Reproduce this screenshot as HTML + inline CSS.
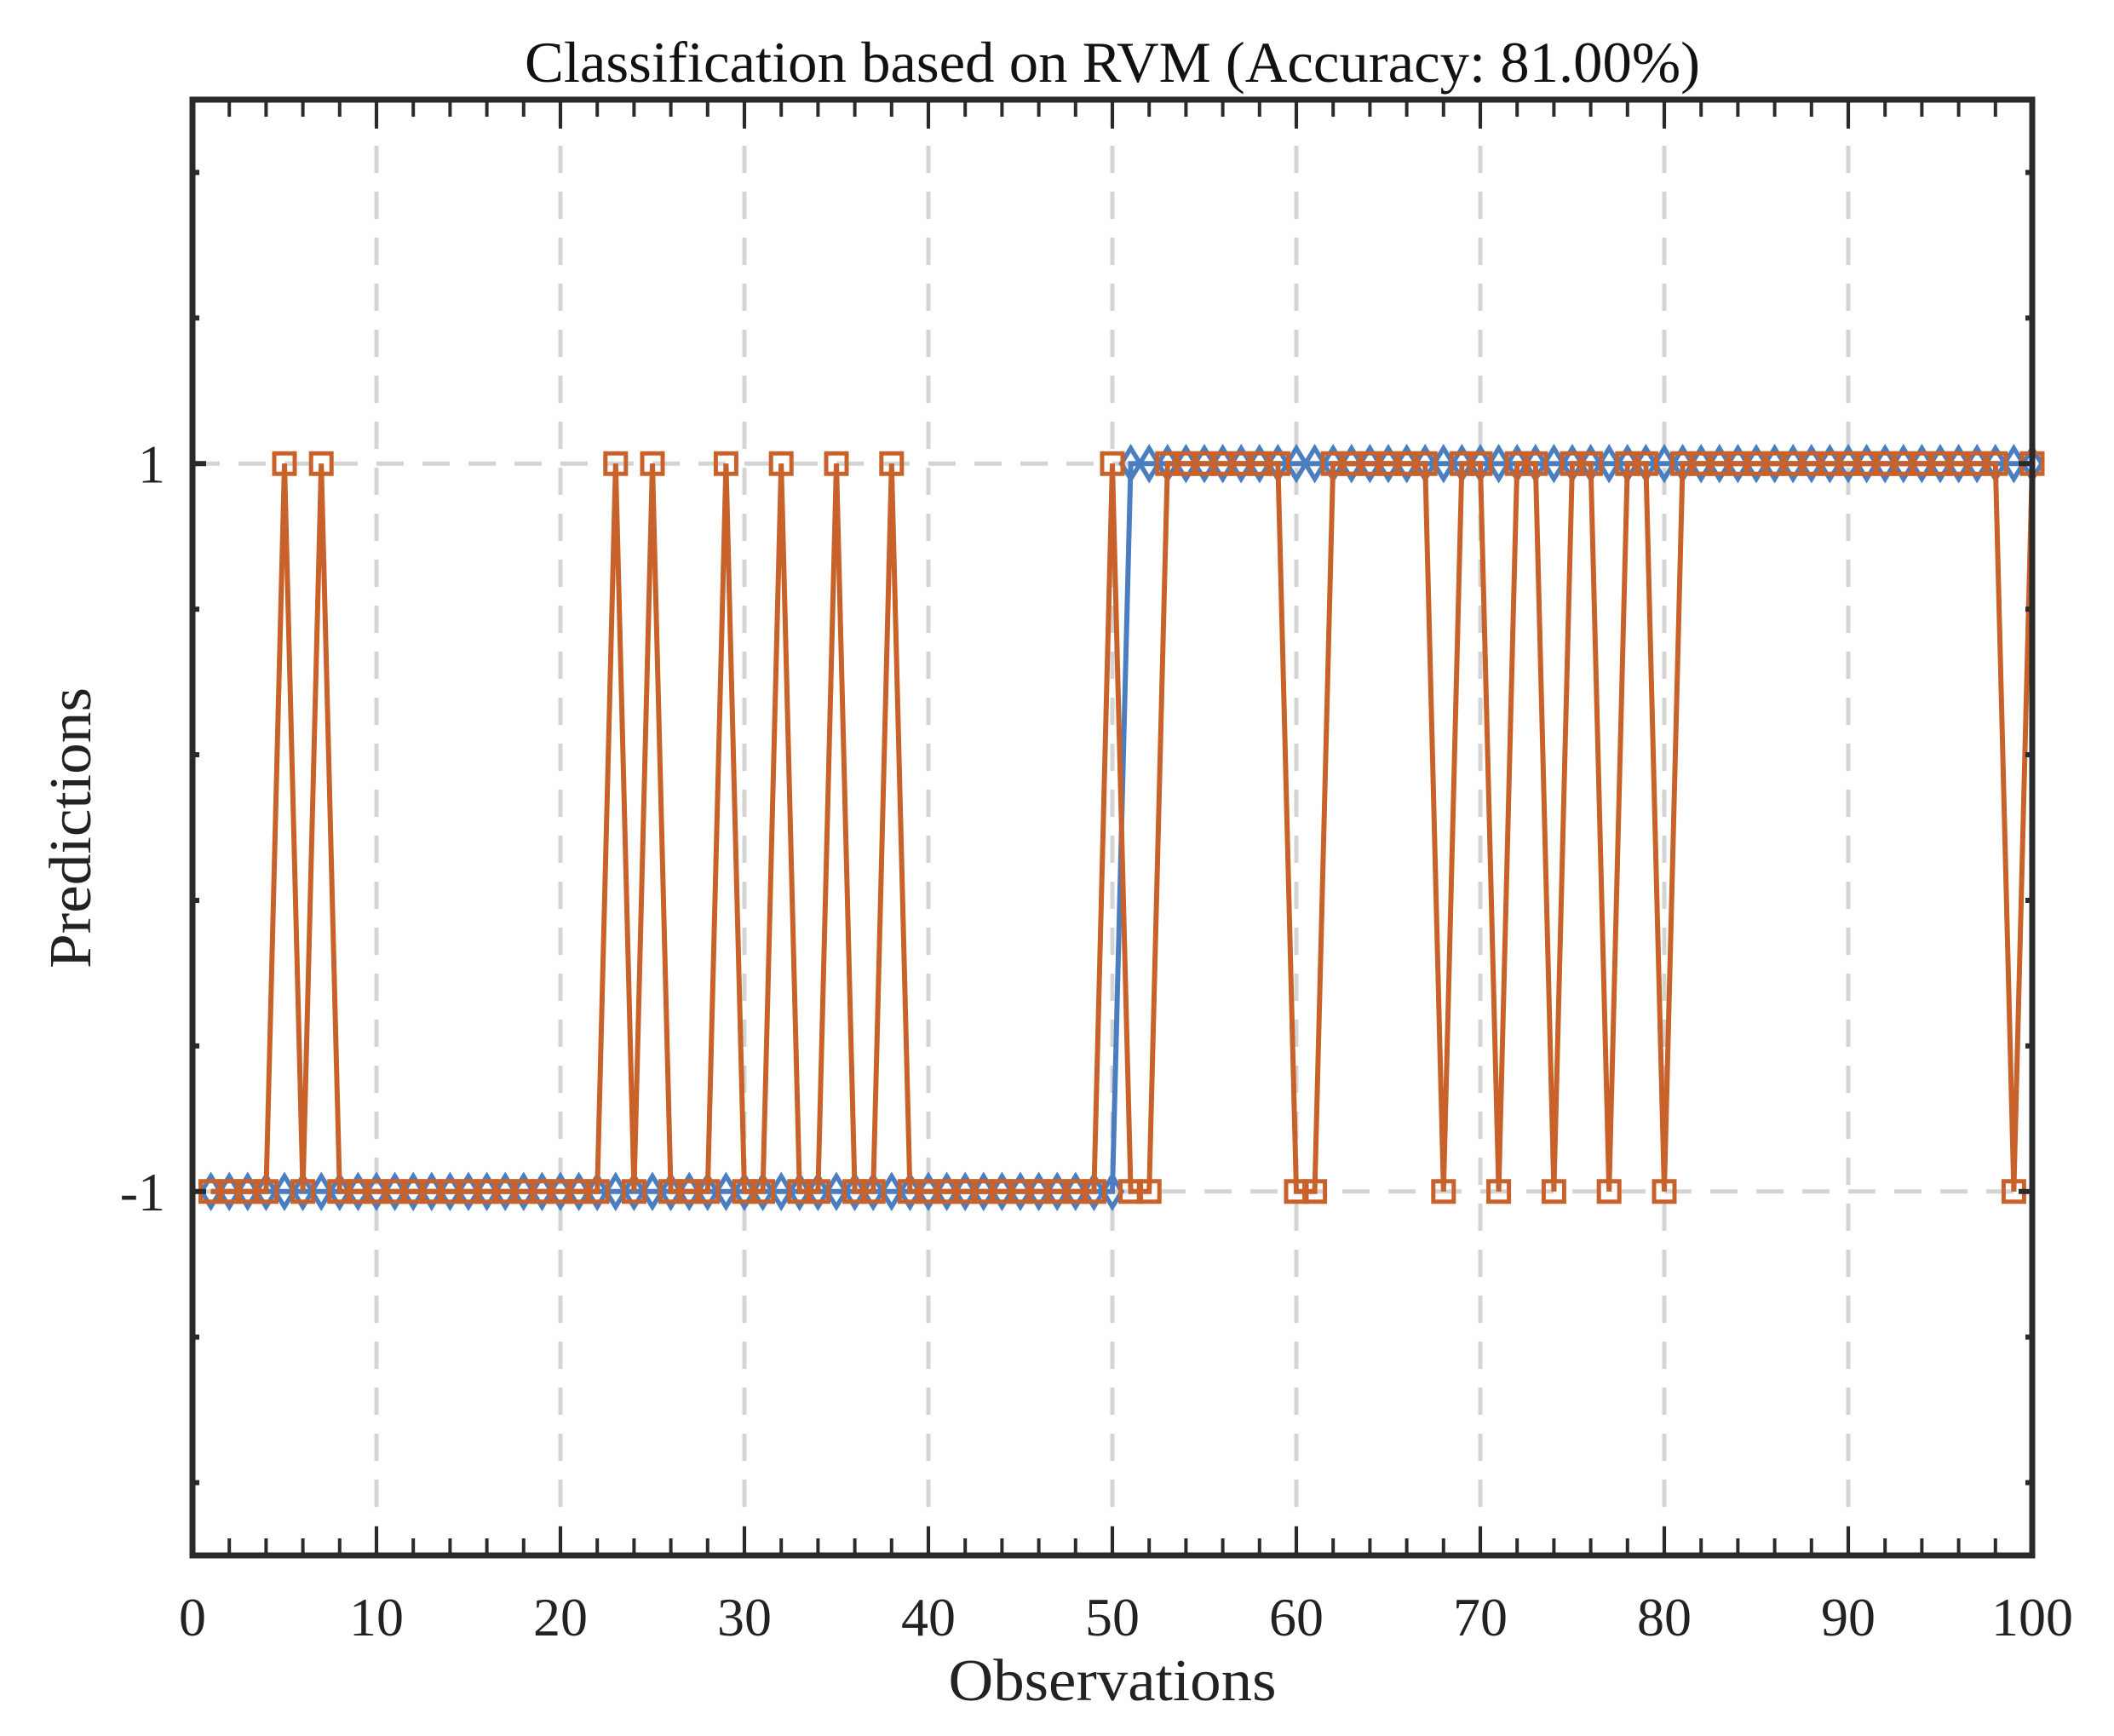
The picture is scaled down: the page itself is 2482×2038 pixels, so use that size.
<!DOCTYPE html>
<html><head><meta charset="utf-8"><style>
html,body{margin:0;padding:0;background:#fff;}
svg{display:block;font-family:"Liberation Serif","DejaVu Serif",serif;}
</style></head><body>
<svg id="chart" width="2482" height="2038" viewBox="0 0 2482 2038" xmlns="http://www.w3.org/2000/svg">
<rect width="2482" height="2038" fill="#fff"/>
<g id="grid"></g>
<g id="series"></g>
<g id="axes"></g>
<text x="1306" y="96" font-size="68" text-anchor="middle" fill="#111" textLength="1380" lengthAdjust="spacingAndGlyphs">Classification based on RVM (Accuracy: 81.00%)</text>
<text x="1306" y="1996" font-size="70" text-anchor="middle" fill="#222" textLength="385" lengthAdjust="spacingAndGlyphs">Observations</text>
<text x="0" y="0" font-size="70" text-anchor="middle" fill="#222" textLength="330" lengthAdjust="spacingAndGlyphs" transform="translate(106,972) rotate(-90)">Predictions</text>
</svg>
<script>
const observations = Array.from({length:100},(_,i)=>i+1);
const trueLabels = [-1,-1,-1,-1,-1,-1,-1,-1,-1,-1,-1,-1,-1,-1,-1,-1,-1,-1,-1,-1,-1,-1,-1,-1,-1,-1,-1,-1,-1,-1,-1,-1,-1,-1,-1,-1,-1,-1,-1,-1,-1,-1,-1,-1,-1,-1,-1,-1,-1,-1,1,1,1,1,1,1,1,1,1,1,1,1,1,1,1,1,1,1,1,1,1,1,1,1,1,1,1,1,1,1,1,1,1,1,1,1,1,1,1,1,1,1,1,1,1,1,1,1,1,1];
const predicted = [-1,-1,-1,-1,1,-1,1,-1,-1,-1,-1,-1,-1,-1,-1,-1,-1,-1,-1,-1,-1,-1,1,-1,1,-1,-1,-1,1,-1,-1,1,-1,-1,1,-1,-1,1,-1,-1,-1,-1,-1,-1,-1,-1,-1,-1,-1,1,-1,-1,1,1,1,1,1,1,1,-1,-1,1,1,1,1,1,1,-1,1,1,-1,1,1,-1,1,1,-1,1,1,-1,1,1,1,1,1,1,1,1,1,1,1,1,1,1,1,1,1,1,-1,1];
const xTicks = [0,10,20,30,40,50,60,70,80,90,100];
const yTicks = [-1,1];
const yMinor = [-1.8,-1.4,-0.6,-0.2,0.2,0.6,1.4,1.8];

const L=226,R=2386,T=117,B=1826;
const xMin=0,xMax=100,yMin=-2,yMax=2;
const sx=v=>L+(v-xMin)/(xMax-xMin)*(R-L);
const sy=v=>B-(v-yMin)/(yMax-yMin)*(B-T);
const NS='http://www.w3.org/2000/svg';
function mk(tag,attrs,parent){const e=document.createElementNS(NS,tag);for(const k in attrs)e.setAttribute(k,attrs[k]);parent.appendChild(e);return e;}
const grid=document.getElementById('grid'),ser=document.getElementById('series'),ax=document.getElementById('axes');

xTicks.forEach(t=>{if(t>xMin&&t<xMax){const l=mk('line',{x1:sx(t),x2:sx(t),y1:T,y2:B,stroke:'#d4d4d4','stroke-width':5,'stroke-dasharray':'32,22'},grid);

}});
yTicks.forEach(t=>{const l=mk('line',{x1:L,x2:R,y1:sy(t),y2:sy(t),stroke:'#d4d4d4','stroke-width':5,'stroke-dasharray':'32,22'},grid);

});

function series(vals,color,name){
  const pts=observations.map((o,i)=>sx(o)+','+sy(vals[i])).join(' ');
  const pl=mk('polyline',{points:pts,fill:'none',stroke:color,'stroke-width':6},ser);
  
  
}
series(trueLabels,'#4a7ec0','true-labels');
observations.forEach((o,i)=>{const x=sx(o),y=sy(trueLabels[i]);
  const d=mk('polygon',{points:`${x},${y-18} ${x+11},${y} ${x},${y+18} ${x-11},${y}`,fill:'none',stroke:'#4a7ec0','stroke-width':5.5},ser);
  
  });
series(predicted,'#c8612a','predicted');
observations.forEach((o,i)=>{const x=sx(o),y=sy(predicted[i]);
  const s=mk('rect',{x:x-12,y:y-12,width:24,height:24,fill:'none',stroke:'#c8612a','stroke-width':5},ser);
  
  });

const box=mk('rect',{x:L,y:T,width:R-L,height:B-T,fill:'none',stroke:'#2a2a2a','stroke-width':7},ax);


for(let v=2;v<100;v+=2){const major=v%10===0;const len=major?34:20;
  const a=mk('line',{x1:sx(v),x2:sx(v),y1:B,y2:B-len,stroke:'#2a2a2a','stroke-width':4},ax);
  
  
  const b=mk('line',{x1:sx(v),x2:sx(v),y1:T,y2:T+len,stroke:'#2a2a2a','stroke-width':4},ax);
  
  }
yMinor.concat(yTicks).forEach(v=>{const len=yTicks.includes(v)?16:8;
  const a=mk('line',{x1:L,x2:L+len,y1:sy(v),y2:sy(v),stroke:'#2a2a2a','stroke-width':6},ax);
  
  
  const b=mk('line',{x1:R,x2:R-len,y1:sy(v),y2:sy(v),stroke:'#2a2a2a','stroke-width':6},ax);
  
  });
xTicks.forEach(t=>{const e=mk('text',{x:sx(t),y:1920,'font-size':64,'text-anchor':'middle',fill:'#222'},ax);e.textContent=t;
  
  });
yTicks.forEach(t=>{const e=mk('text',{x:L-32,y:sy(t)+22,'font-size':64,'text-anchor':'end',fill:'#222'},ax);e.textContent=t;
  
  });
</script>
</body></html>
